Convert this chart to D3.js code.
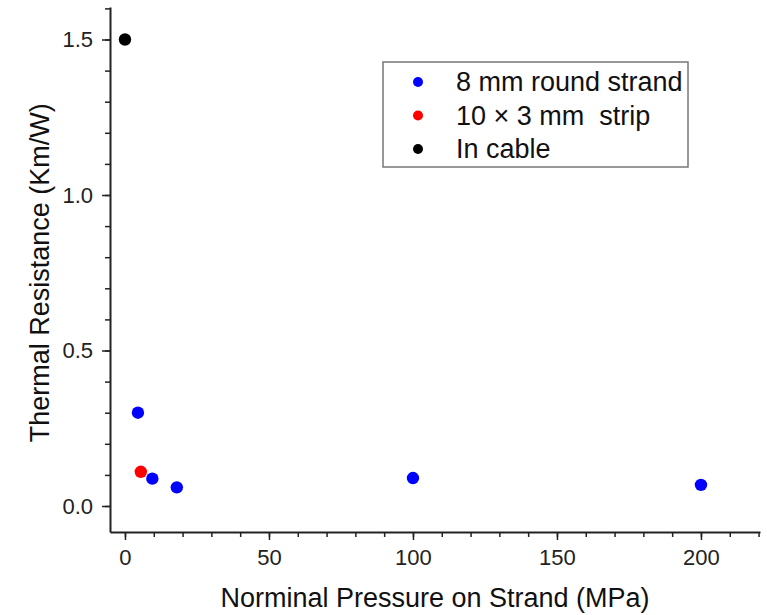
<!DOCTYPE html>
<html>
<head>
<meta charset="utf-8">
<script src="https://cdn.jsdelivr.net/npm/d3@7"></script>
<style>
  body { margin: 0; background: #fff; }
  text { font-family: "Liberation Sans", Arial, sans-serif; }
</style>
</head>
<body>
<div id="container"></div>
<script>
/* CONSTANTS AND GLOBALS */
const width = 767;
const height = 615;
const margin = ({top: 7, right: 7, bottom: 83, left: 110});

/* DATA */
const seriesNames = ["8 mm round strand", "10 \u00d7 3 mm  strip", "In cable"];
const seriesColors = ["#0000ff", "#ff0000", "#000000"];
const roundPressure = [4.5, 9.5, 18, 100, 200];
const roundResistance = [0.30, 0.088, 0.06, 0.09, 0.068];
const stripPressure = [5.5];
const stripResistance = [0.11];
const cablePressure = [0];
const cableResistance = [1.5];
const xTicks = [0, 50, 100, 150, 200];
const yTicks = [0.0, 0.5, 1.0, 1.5];

const points = [
  ...roundPressure.map((p, i) => ({s: 0, x: p, y: roundResistance[i]})),
  ...stripPressure.map((p, i) => ({s: 1, x: p, y: stripResistance[i]})),
  ...cablePressure.map((p, i) => ({s: 2, x: p, y: cableResistance[i]}))
];

/* SCALES */
const xScale = d3.scaleLinear()
  .domain([-5.2, 220.5])
  .range([margin.left, width - margin.right]);
const yScale = d3.scaleLinear()
  .domain([-0.0836, 1.6045])
  .range([height - margin.bottom, margin.top]);

const svg = d3.select("#container")
  .append("svg")
  .attr("width", width)
  .attr("height", height);

// minor ticks
svg.append("g")
  .attr("transform", `translate(0, ${height - margin.bottom})`)
  .call(d3.axisBottom(xScale).tickValues(d3.range(0, 221, 10)).tickSize(5).tickFormat(""))
  .call(g => g.select(".domain").remove())
  .selectAll("line").attr("stroke", "#222").attr("stroke-width", 1.5);

svg.append("g")
  .attr("transform", `translate(${margin.left}, 0)`)
  .call(d3.axisLeft(yScale).tickValues(d3.range(0, 1.61, 0.1)).tickSize(5).tickFormat(""))
  .call(g => g.select(".domain").remove())
  .selectAll("line").attr("stroke", "#222").attr("stroke-width", 1.5);

// major axes
const xAxis = svg.append("g")
  .attr("transform", `translate(0, ${height - margin.bottom})`)
  .call(d3.axisBottom(xScale).tickValues(xTicks).tickSize(8).tickPadding(9).tickSizeOuter(0).tickFormat(d3.format("d")));
xAxis.select(".domain").attr("stroke", "#222").attr("stroke-width", 2);
xAxis.selectAll("line").attr("stroke", "#222").attr("stroke-width", 1.5);
xAxis.selectAll("text").attr("font-size", "22px").attr("fill", "#222");

const yAxis = svg.append("g")
  .attr("transform", `translate(${margin.left}, 0)`)
  .call(d3.axisLeft(yScale).tickValues(yTicks).tickSize(8).tickPadding(9).tickSizeOuter(0).tickFormat(d3.format(".1f")));
yAxis.select(".domain").attr("stroke", "#222").attr("stroke-width", 2);
yAxis.selectAll("line").attr("stroke", "#222").attr("stroke-width", 1.5);
yAxis.selectAll("text").attr("font-size", "22px").attr("fill", "#222");

// points
svg.selectAll("circle.dot")
  .data(points)
  .join("circle")
  .attr("class", "dot")
  .attr("cx", d => xScale(d.x))
  .attr("cy", d => yScale(d.y))
  .attr("r", 6.2)
  .attr("fill", d => seriesColors[d.s]);

// axis titles
svg.append("text")
  .attr("x", 435)
  .attr("y", 607)
  .attr("text-anchor", "middle")
  .attr("font-size", "27px")
  .attr("fill", "#111")
  .text("Norminal Pressure on Strand (MPa)");

svg.append("text")
  .attr("transform", "rotate(-90)")
  .attr("x", -(yScale(0.75)))
  .attr("y", 49)
  .attr("text-anchor", "middle")
  .attr("font-size", "27px")
  .attr("fill", "#111")
  .text("Thermal Resistance (Km/W)");

// legend
const legend = svg.append("g").attr("transform", "translate(383, 62)");
legend.append("rect")
  .attr("width", 305)
  .attr("height", 105)
  .attr("fill", "#fff")
  .attr("stroke", "#777")
  .attr("stroke-width", 1.5);
seriesNames.forEach((name, i) => {
  const row = legend.append("g").attr("transform", `translate(0, ${20 + i * 33.5})`);
  row.append("circle").attr("cx", 35).attr("cy", 0).attr("r", 5).attr("fill", seriesColors[i]);
  row.append("text")
    .attr("x", 73)
    .attr("y", 0)
    .attr("dy", "0.35em")
    .attr("font-size", "27px")
    .attr("fill", "#111")
    .style("white-space", "pre")
    .text(name);
});
</script>
</body>
</html>
